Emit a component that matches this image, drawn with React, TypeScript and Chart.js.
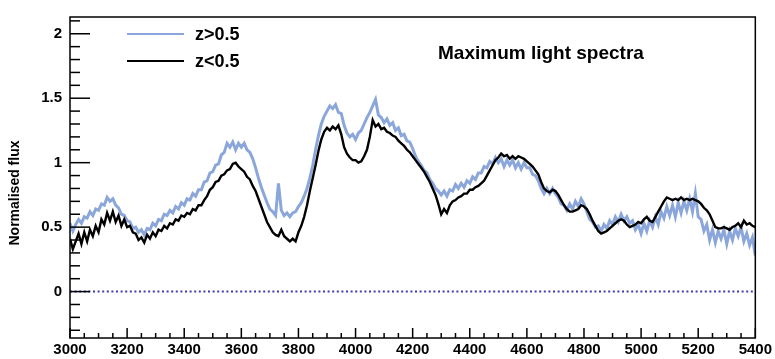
import React, { useEffect, useRef } from "react";
import { Chart, registerables } from "chart.js";

Chart.register(...registerables);

const WAVE_START = 3000;
const WAVE_STEP = 10;

// z<0.5 (black), 3000..5400 Å, step 10 Å
const LOW_Z = [
  0.41, 0.33, 0.39, 0.45, 0.37, 0.46, 0.39, 0.48, 0.43, 0.51,
  0.46, 0.56, 0.52, 0.61, 0.55, 0.62, 0.54, 0.59, 0.51, 0.56,
  0.50, 0.51, 0.46, 0.45, 0.40, 0.42, 0.38, 0.44, 0.41, 0.46,
  0.43, 0.48, 0.47, 0.51, 0.49, 0.53, 0.52, 0.56, 0.55, 0.59,
  0.58, 0.61, 0.60, 0.64, 0.63, 0.67, 0.67, 0.71, 0.74, 0.79,
  0.81, 0.85, 0.86, 0.90, 0.91, 0.94, 0.95, 0.99, 1.00, 0.97,
  0.95, 0.93, 0.89, 0.87, 0.82, 0.78, 0.72, 0.66, 0.60, 0.54,
  0.50, 0.46, 0.44, 0.43, 0.48, 0.43, 0.41, 0.39, 0.41, 0.39,
  0.46, 0.51, 0.58, 0.67, 0.78, 0.88, 0.98, 1.09, 1.18, 1.24,
  1.27, 1.25, 1.28, 1.26, 1.29, 1.22, 1.12, 1.07, 1.04, 1.02,
  1.02, 1.00, 1.01, 1.05, 1.10, 1.20, 1.33, 1.28, 1.30, 1.26,
  1.27, 1.24, 1.23, 1.21, 1.20, 1.17, 1.15, 1.13, 1.10, 1.08,
  1.05, 1.02, 0.99, 0.96, 0.93, 0.89, 0.85, 0.80, 0.75, 0.68,
  0.60, 0.64, 0.61, 0.67, 0.70, 0.71, 0.73, 0.74, 0.76, 0.76,
  0.79, 0.79, 0.81, 0.82, 0.84, 0.86, 0.90, 0.94, 0.98, 1.02,
  1.04, 1.07, 1.05, 1.06, 1.03, 1.05, 1.03, 1.05, 1.04, 1.03,
  1.01, 0.99, 0.97, 0.94, 0.91, 0.85, 0.80, 0.78, 0.77, 0.79,
  0.78, 0.75, 0.71, 0.67, 0.64, 0.62, 0.62, 0.63, 0.64, 0.67,
  0.66, 0.64, 0.60, 0.55, 0.51, 0.47, 0.45, 0.46, 0.47, 0.49,
  0.51, 0.53, 0.55, 0.56, 0.55, 0.52, 0.50, 0.51, 0.52, 0.54,
  0.53, 0.56, 0.58, 0.55, 0.54, 0.58, 0.62, 0.66, 0.70, 0.73,
  0.72, 0.71, 0.72, 0.71, 0.73, 0.71, 0.72, 0.71, 0.72, 0.71,
  0.70, 0.68, 0.65, 0.63, 0.60, 0.55, 0.50, 0.49, 0.49, 0.50,
  0.49, 0.48, 0.50, 0.51, 0.53, 0.50, 0.55, 0.52, 0.53, 0.51,
  0.50,
];

// z>0.5 (light blue), 3000..5400 Å, step 10 Å
const HIGH_Z = [
  0.53, 0.47, 0.52, 0.56, 0.53, 0.58, 0.57, 0.62, 0.59, 0.64,
  0.63, 0.68, 0.67, 0.73, 0.70, 0.72, 0.67, 0.65, 0.60, 0.59,
  0.55, 0.54, 0.49, 0.50, 0.46, 0.48, 0.44, 0.49, 0.48, 0.53,
  0.51, 0.56, 0.55, 0.60, 0.59, 0.63, 0.61, 0.66, 0.64, 0.69,
  0.67, 0.72, 0.71, 0.76, 0.74, 0.79, 0.79, 0.85, 0.86, 0.92,
  0.93, 0.98, 0.99, 1.06, 1.08, 1.15, 1.12, 1.16, 1.10, 1.15,
  1.12, 1.15, 1.10, 1.08, 1.03, 0.96, 0.88, 0.81, 0.75, 0.69,
  0.64, 0.62, 0.59, 0.84, 0.63, 0.59, 0.61, 0.58, 0.61, 0.62,
  0.66, 0.69, 0.74, 0.80, 0.88, 0.98, 1.10, 1.21, 1.30, 1.36,
  1.40, 1.44, 1.42, 1.45, 1.39, 1.38, 1.29, 1.23, 1.20, 1.22,
  1.18, 1.23, 1.25, 1.30, 1.35, 1.39, 1.44, 1.49, 1.37, 1.35,
  1.31, 1.34, 1.29, 1.31, 1.25, 1.27, 1.21, 1.22, 1.17, 1.16,
  1.11, 1.05, 1.01, 0.98, 0.94, 0.92, 0.87, 0.84, 0.80, 0.78,
  0.75, 0.78, 0.74, 0.79, 0.78, 0.83, 0.80, 0.84, 0.81, 0.86,
  0.84, 0.89, 0.87, 0.92, 0.92, 0.97, 0.96, 1.01, 0.99, 1.04,
  1.00, 1.03, 0.97, 1.02, 0.98, 1.02, 0.96, 1.00, 0.95, 1.00,
  0.96, 0.96, 0.91, 0.90, 0.86, 0.80, 0.76, 0.80, 0.76, 0.80,
  0.76, 0.73, 0.68, 0.67, 0.63, 0.68, 0.64, 0.70, 0.66, 0.72,
  0.68, 0.62, 0.56, 0.54, 0.50, 0.51, 0.47, 0.52, 0.49, 0.55,
  0.52, 0.58, 0.54, 0.60, 0.55, 0.58, 0.53, 0.55, 0.48, 0.52,
  0.45, 0.53, 0.47, 0.55, 0.50, 0.58, 0.52, 0.62, 0.57, 0.66,
  0.59, 0.67, 0.58, 0.69, 0.61, 0.70, 0.63, 0.72, 0.62, 0.76,
  0.58, 0.56, 0.47, 0.52, 0.40, 0.48, 0.38, 0.47, 0.41, 0.48,
  0.37, 0.47, 0.40, 0.49, 0.43, 0.50, 0.39, 0.45, 0.36, 0.42,
  0.28,
];

const ZERO_LINE = [0, 0];
const X_TICKS = [3000, 3200, 3400, 3600, 3800, 4000, 4200, 4400, 4600, 4800, 5000, 5200, 5400];
const Y_TICKS = [0, 0.5, 1, 1.5, 2];
const LEGEND_LABELS = ["z>0.5", "z<0.5"];
const TITLE = "Maximum light spectra";
const Y_TITLE = "Normalised flux";

const BLUE = "#8aa6da";
const FONT = "'Liberation Sans', Arial, Helvetica, sans-serif";

const toPoints = (arr: number[]) =>
  arr.map((y, i) => ({ x: WAVE_START + i * WAVE_STEP, y }));

const framePlugin = {
  id: "rootFrame",
  afterDraw(chart: any) {
    const { ctx, chartArea } = chart;
    const xs = chart.scales.x;
    const ys = chart.scales.y;
    const { left, right, top, bottom } = chartArea;
    ctx.save();
    ctx.strokeStyle = "#000";
    ctx.lineWidth = 1.5;
    ctx.strokeRect(left, top, right - left, bottom - top);
    for (let i = -3; i <= 21; i++) {
      const v = i / 10;
      const py = ys.getPixelForValue(v);
      if (py < top || py > bottom) continue;
      const len = i % 5 === 0 ? 20 : 10;
      ctx.beginPath();
      ctx.moveTo(left, py);
      ctx.lineTo(left + len, py);
      ctx.stroke();
    }
    for (let w = 3000; w <= 5400; w += 50) {
      const px = xs.getPixelForValue(w);
      const len = w % 200 === 0 ? 10 : 5;
      ctx.beginPath();
      ctx.moveTo(px, bottom);
      ctx.lineTo(px, bottom - len);
      ctx.stroke();
    }
    const lx0 = left + 57;
    const lx1 = left + 114;
    const rows = [
      { color: BLUE, y: top + 17, width: 2, label: LEGEND_LABELS[0] },
      { color: "#000", y: top + 44, width: 2, label: LEGEND_LABELS[1] },
    ];
    ctx.font = `bold 18px ${FONT}`;
    ctx.textBaseline = "middle";
    ctx.textAlign = "left";
    for (const r of rows) {
      ctx.strokeStyle = r.color;
      ctx.lineWidth = r.width;
      ctx.beginPath();
      ctx.moveTo(lx0, r.y);
      ctx.lineTo(lx1, r.y);
      ctx.stroke();
      ctx.fillStyle = "#000";
      ctx.fillText(r.label, lx1 + 11, r.y + 1);
    }
    ctx.font = `bold 19px ${FONT}`;
    ctx.fillText(TITLE, left + 368, top + 37);
    ctx.save();
    ctx.translate(15, top + 176);
    ctx.rotate(-Math.PI / 2);
    ctx.textAlign = "center";
    ctx.font = `bold 14px ${FONT}`;
    ctx.fillText(Y_TITLE, 0, 0);
    ctx.restore();
    ctx.restore();
  },
};

export default function App() {
  const canvasRef = useRef<HTMLCanvasElement | null>(null);

  useEffect(() => {
    document.body.style.margin = "0";
    const canvas = canvasRef.current;
    if (!canvas) return;
    const chart = new Chart(canvas, {
      type: "line",
      data: {
        datasets: [
          {
            label: LEGEND_LABELS[1],
            data: toPoints(LOW_Z),
            borderColor: "#000",
            borderWidth: 2.4,
            pointRadius: 0,
            tension: 0,
            order: 1,
          },
          {
            label: LEGEND_LABELS[0],
            data: toPoints(HIGH_Z),
            borderColor: BLUE,
            borderWidth: 3,
            pointRadius: 0,
            tension: 0,
            order: 2,
          },
          {
            label: "zero",
            data: ZERO_LINE.map((y, i) => ({ x: i === 0 ? 3000 : 5400, y })),
            borderColor: "#3c3cb4",
            borderWidth: 2,
            borderDash: [2, 2.6],
            pointRadius: 0,
            order: 3,
          },
        ],
      },
      options: {
        animation: false,
        responsive: false,
        devicePixelRatio: 1,
        layout: { padding: { top: 8, right: 19, left: 0, bottom: 0 } },
        plugins: { legend: { display: false }, tooltip: { enabled: false } },
        scales: {
          x: {
            type: "linear",
            min: 3000,
            max: 5400,
            grid: { display: false, drawTicks: false },
            border: { display: false },
            afterBuildTicks: (s: any) => {
              s.ticks = X_TICKS.map((v) => ({ value: v }));
            },
            afterFit: (s: any) => {
              s.height = 21;
            },
            ticks: {
              padding: 3,
              maxRotation: 0,
              autoSkip: false,
              color: "#000",
              font: { family: FONT, size: 15, weight: "bold" },
              callback: (v: any) => String(v),
            },
          },
          y: {
            type: "linear",
            min: -0.36,
            max: 2.13,
            grid: { display: false, drawTicks: false },
            border: { display: false },
            afterBuildTicks: (s: any) => {
              s.ticks = Y_TICKS.map((v) => ({ value: v }));
            },
            afterFit: (s: any) => {
              s.width = 70;
            },
            ticks: {
              padding: 8,
              color: "#000",
              font: { family: FONT, size: 15, weight: "bold" },
              callback: (v: any) => String(v),
            },
          },
        },
      },
      plugins: [framePlugin],
    });
    return () => chart.destroy();
  }, []);

  return (
    <div style={{ width: 775, height: 359, background: "#fff" }}>
      <canvas ref={canvasRef} width={775} height={359} />
    </div>
  );
}
